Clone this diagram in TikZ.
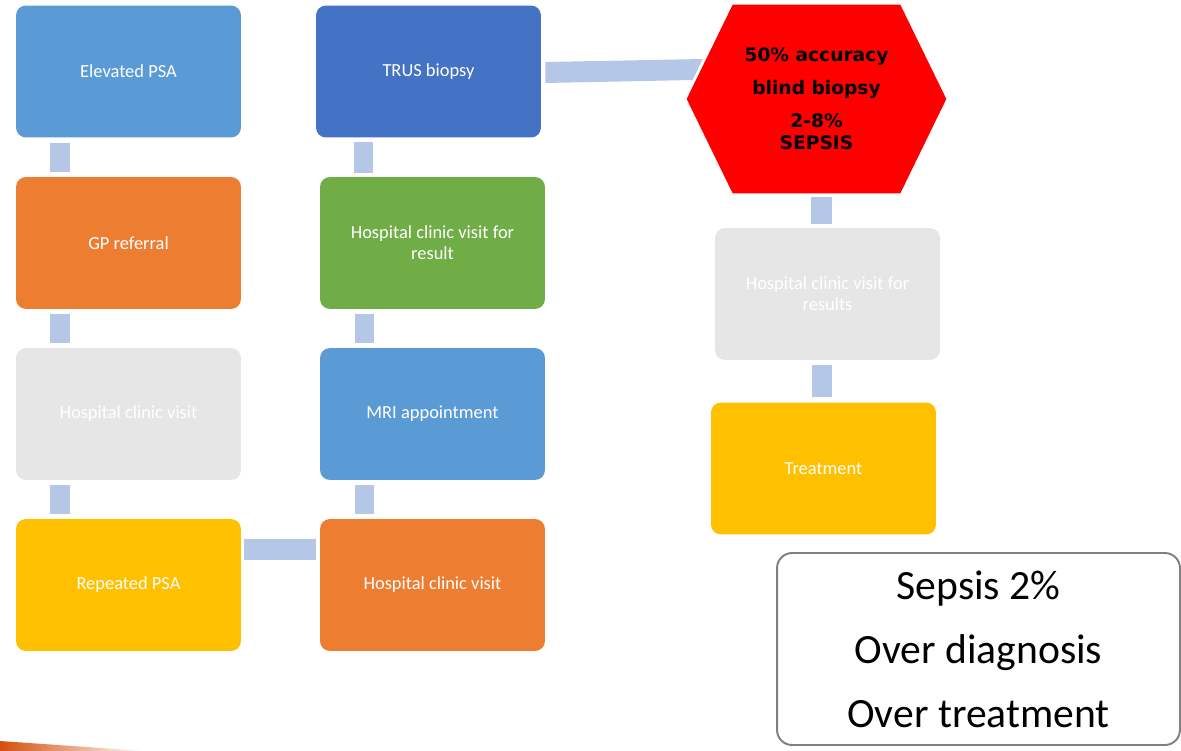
\documentclass[tikz,border=0pt]{standalone}
\usepackage{fontspec}
\setmainfont{Carlito}
\newfontfamily\hexfont{DejaVu Sans}
\usetikzlibrary{calc,backgrounds}
\definecolor{blueA}{HTML}{5B9BD5}
\definecolor{blueB}{HTML}{4472C4}
\definecolor{orangeA}{HTML}{ED7D31}
\definecolor{greyA}{HTML}{E7E6E6}
\definecolor{goldA}{HTML}{FFC000}
\definecolor{greenA}{HTML}{70AD47}
\definecolor{linkblue}{HTML}{B4C7E7}
\definecolor{streak}{HTML}{D4500C}
\newcommand{\FB}{\fontsize{10.5}{12}\selectfont}
\newcommand{\FH}{\hexfont\bfseries\fontsize{10.6}{12.5}\selectfont}
\newcommand{\FS}{\fontsize{23.7}{36.4}\selectfont}

\begin{document}
\begin{tikzpicture}[x=0.02cm,y=-0.02cm]
\tikzstyle{box}=[rounded corners=0.2cm,minimum width=4.5cm,minimum height=2.64cm,align=center,text=white,font=\FB]
\tikzstyle{link}=[fill=linkblue]

\useasboundingbox (0,0) rectangle (1181,751);

% first column
\node[box,fill=blueA]   (psa)   at (128.5,71.5) {Elevated PSA};
\node[box,fill=orangeA] (gp)    at (128.5,243)  {GP referral};
\node[box,fill=greyA]   (clin)  at (128.5,414)  {Hospital clinic visit};
\node[box,fill=goldA]   (rep)   at (128.5,585)  {Repeated PSA};

% second column
\node[box,fill=blueB]   (trus)  at (428.5,71.5) {TRUS biopsy};
\node[box,fill=greenA]  (res)   at (432.5,243)  {Hospital clinic visit for\\result};
\node[box,fill=blueA]   (mri)   at (432.5,414)  {MRI appointment};
\node[box,fill=orangeA] (visit) at (432.5,585)  {Hospital clinic visit};

% third column
\node[minimum width=5.18cm,minimum height=3.76cm,align=center,font=\FH] (hex) at (816.5,99)
  {50\% accuracy\\[6.3pt]blind biopsy\\[6.3pt]2-8\%\\SEPSIS};
\begin{scope}[on background layer]
\fill[red] (hex.west) -- ($(hex.north west)+(46,0)$) -- ($(hex.north east)+(-46,0)$)
  -- (hex.east) -- ($(hex.south east)+(-46,0)$) -- ($(hex.south west)+(46,0)$) -- cycle;
\end{scope}
\node[box,fill=greyA]   (ress)  at (827.5,294)  {Hospital clinic visit for\\results};
\node[box,fill=goldA]   (treat) at (823.5,468.5) {Treatment};

\node[draw=black!50,line width=1.1pt,rounded corners=0.3cm,minimum width=8.06cm,minimum height=3.84cm,align=center,font=\FS] (risk) at (978.5,649)
  {Sepsis 2\%\\Over diagnosis\\Over treatment};

% links
\fill[link] ($(psa.south west)+(34,5)$) rectangle ($(gp.north west)+(54,-5)$);
\fill[link] ($(gp.south west)+(34,5)$) rectangle ($(clin.north west)+(54,-5)$);
\fill[link] ($(clin.south west)+(34,5)$) rectangle ($(rep.north west)+(54,-5)$);
\fill[link] ($(rep.east)+(3,-46)$) rectangle ($(visit.west)+(-4,-25)$);
\fill[link] ($(visit.north west)+(35,-5)$) rectangle ($(mri.south west)+(54,5)$);
\fill[link] ($(mri.north west)+(35,-5)$) rectangle ($(res.south west)+(54,5)$);
\fill[link] ($(res.north west)+(34,-4)$) rectangle ($(trus.south west)+(57,4)$);
\fill[link] ($(trus.east)+(4,-9.5)$) -- ($(hex.west)+(16,-40)$) -- ($(hex.west)+(6,-19)$) -- ($(trus.east)+(4,11.5)$) -- cycle;
\fill[link] ($(hex.south)+(-5.5,4)$) rectangle ($(ress.north)+(4.5,-4)$);
\fill[link] ($(ress.south)+(-15.5,5)$) rectangle ($(treat.north)+(8.5,-5)$);

\shade[left color=streak,middle color=streak,right color=white] (0,741) -- (145,751) -- (0,751) -- cycle;
\end{tikzpicture}
\end{document}
